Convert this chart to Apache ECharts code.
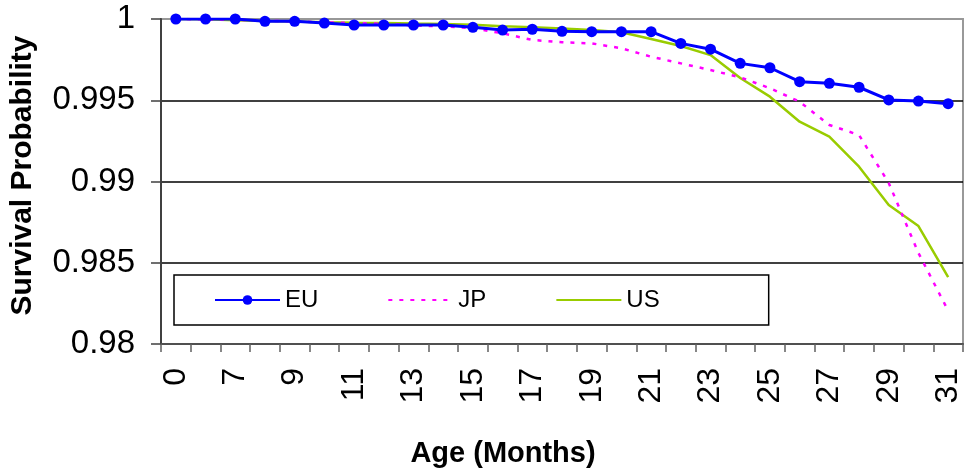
<!DOCTYPE html>
<html><head><meta charset="utf-8">
<script src="https://cdn.jsdelivr.net/npm/echarts@6/dist/echarts.min.js"></script>
<style>html,body{margin:0;padding:0;background:#fff}#c{width:966px;height:473px}</style>
</head><body><div id="c"></div>
<script>
const categories = ['0','6','7','8','9','10','11','12','13','14','15','16','17','18','19','20','21','22','23','24','25','26','27','28','29','30','31'];
const euValues = [1.0, 1.0, 1.0, 0.99986, 0.99986, 0.99975, 0.99963, 0.99963, 0.99963, 0.99963, 0.99949, 0.99932, 0.99937, 0.99924, 0.99922, 0.99922, 0.99922, 0.99850, 0.99814, 0.99727, 0.99700, 0.99614, 0.99604, 0.99580, 0.99502, 0.99495, 0.99479];
const jpValues = [1.0, 0.99998, 0.99995, 0.9999, 0.99985, 0.9998, 0.99975, 0.9997, 0.9996, 0.99955, 0.99943, 0.99912, 0.99871, 0.99857, 0.9985, 0.9982, 0.99768, 0.99727, 0.99686, 0.99641, 0.99574, 0.99491, 0.99348, 0.99286, 0.98991, 0.9856, 0.98205];
const usValues = [1.0, 0.99998, 0.99992, 0.99988, 0.99985, 0.9998, 0.99977, 0.99975, 0.99972, 0.9997, 0.99965, 0.99955, 0.9995, 0.99942, 0.99932, 0.99918, 0.99877, 0.99834, 0.99778, 0.99637, 0.99522, 0.99368, 0.99276, 0.99091, 0.98855, 0.98726, 0.98411];
const seriesNames = ['EU','JP','US'];
const yTitle = 'Survival Probability';
const xTitle = 'Age (Months)';

const FONT = '"Liberation Sans", Arial, sans-serif';
const chart = echarts.init(document.getElementById('c'), null, {renderer:'canvas'});
chart.setOption({
  animation:false,
  backgroundColor:'#fff',
  grid:{left:161, right:3, top:19, bottom:129, show:true, borderColor:'#999', borderWidth:2, backgroundColor:'transparent'},
  legend:{
    left:174, top:275, orient:'horizontal',
    data:[
      {name:seriesNames[0]},
      {name:seriesNames[1], itemStyle:{opacity:0}},
      {name:seriesNames[2], itemStyle:{opacity:0}}
    ],
    backgroundColor:'#fff', borderColor:'#000', borderWidth:1.5,
    padding:[13,109,13,40], itemGap:69, itemWidth:65, itemHeight:12,
    textStyle:{fontFamily:FONT, fontSize:24, color:'#000'}
  },
  xAxis:{
    type:'category', data:categories, boundaryGap:true,
    name:xTitle, nameLocation:'middle', nameGap:95,
    nameTextStyle:{fontFamily:FONT, fontSize:29, fontWeight:'bold', color:'#000', padding:[0,118,0,0]},
    axisLine:{lineStyle:{color:'#505050', width:2}},
    axisTick:{show:true, interval:0, length:8, lineStyle:{color:'#606060', width:1.5}},
    axisLabel:{interval:1, rotate:90, margin:24, fontFamily:FONT, fontSize:32, color:'#000'},
    splitLine:{show:false}
  },
  yAxis:{
    type:'value', min:0.98, max:1, interval:0.005,
    name:yTitle, nameLocation:'middle', nameGap:123,
    nameTextStyle:{fontFamily:FONT, fontSize:30, fontWeight:'bold', color:'#000', padding:[0,0,0,12]},
    axisLine:{show:true, lineStyle:{color:'#404040', width:2}},
    axisTick:{show:true, length:10, lineStyle:{color:'#404040', width:1.5}},
    axisLabel:{margin:26, fontFamily:FONT, fontSize:33, color:'#000',
      formatter:v=>String(parseFloat(Number(v).toFixed(3)))},
    splitLine:{show:true, lineStyle:{color:['#404040','#000','#000','#000','#999'], width:1.5}}
  },
  series:[
    {name:seriesNames[0], type:'line', data:euValues, symbol:'circle', symbolSize:11, showSymbol:true,
      itemStyle:{color:'#0000FF'}, lineStyle:{color:'#0000FF', width:3}, z:5},
    {name:seriesNames[1], type:'line', data:jpValues, symbol:'none',
      itemStyle:{color:'#FF00FF'}, lineStyle:{color:'#FF00FF', width:2.5, type:[4,7]}, z:4},
    {name:seriesNames[2], type:'line', data:usValues, symbol:'none',
      itemStyle:{color:'#99CC00'}, lineStyle:{color:'#99CC00', width:2.5}, z:3}
  ]
});
</script></body></html>
